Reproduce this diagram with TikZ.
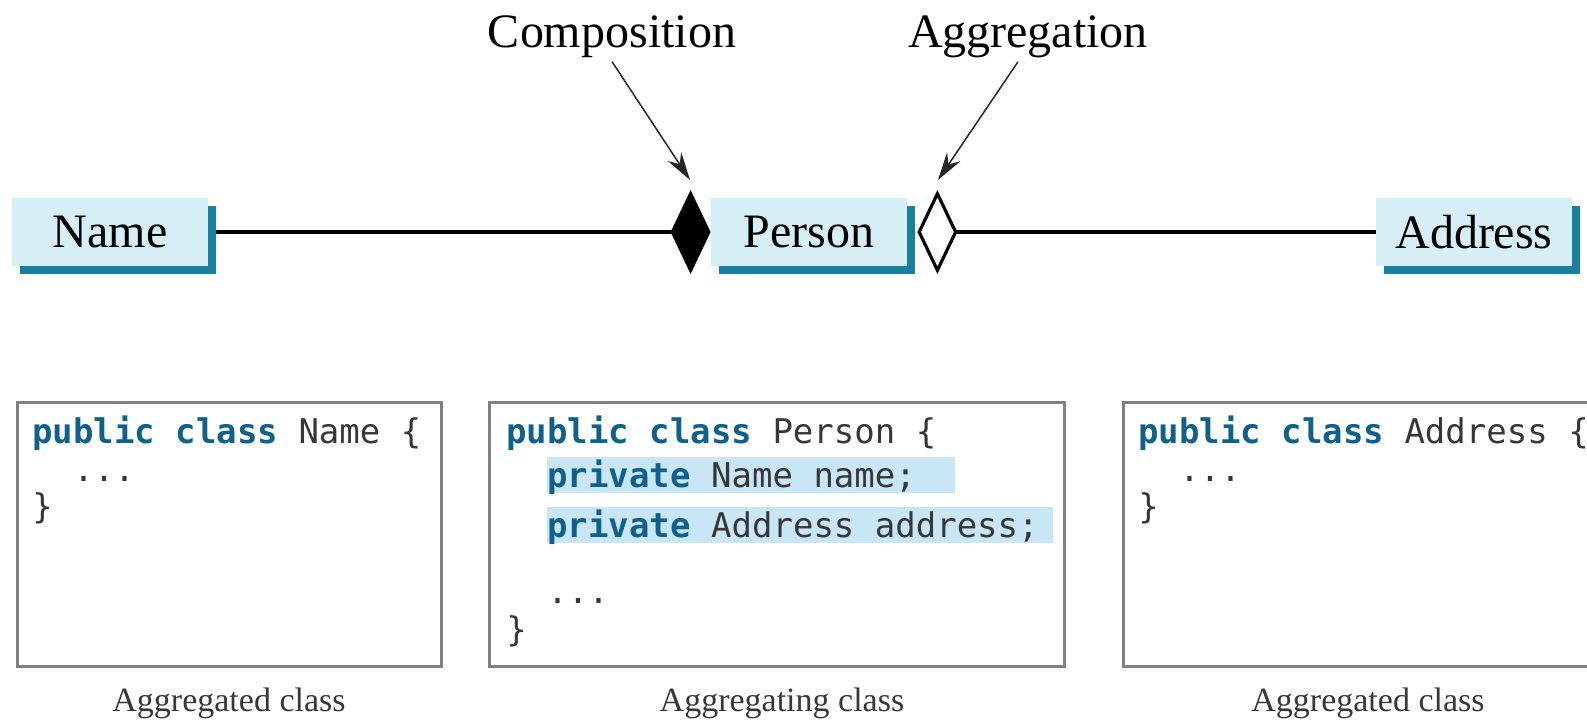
\documentclass[tikz,border=0pt]{standalone}
\usepackage{fontspec}
\setmainfont{Liberation Serif}
\newfontfamily\codefont{DejaVu Sans Mono}
\usetikzlibrary{arrows.meta,shapes,shadows,positioning}

\definecolor{boxface}{RGB}{214,238,245}
\definecolor{boxshade}{RGB}{24,128,156}
\definecolor{kwblue}{RGB}{16,96,140}
\definecolor{hlblue}{RGB}{200,230,245}
\definecolor{codegray}{RGB}{55,55,55}
\definecolor{framegray}{RGB}{128,128,128}

\newcommand\kw[1]{\textcolor{kwblue}{\bfseries #1}}

\begin{document}
\begin{tikzpicture}[x=0.5pt,y=-0.5pt,>={Stealth[length=14pt,width=8pt]},
    class node/.style={fill=boxface,general shadow={fill=boxshade,shadow xshift=4pt,shadow yshift=-4pt},
                       minimum width=98pt,minimum height=34pt,inner sep=0pt,font=\fontsize{24}{28}\selectfont},
    note/.style={anchor=base,inner sep=2pt,font=\fontsize{24}{28}\selectfont},
    code box/.style={draw=framegray,line width=1.5pt,minimum height=132pt,inner sep=0pt},
    code/.style={anchor=base west,inner sep=0pt,text=codegray,font=\codefont\fontsize{17}{20}\selectfont},
    marked/.style={code,fill=hlblue,text height=15pt,text depth=3pt},
    caption/.style={anchor=base,text=codegray,font=\fontsize{17}{19}\selectfont}]

  \useasboundingbox (0,0) rectangle (1587,719);
  \clip (0,0) rectangle (1587,719);

  \node[class node] (name) at (110,232) {Name};
  \node[class node] (person) at (809,232) {Person};
  \node[class node] (address) at (1474,232) {Address};

  \draw[line width=2.4pt,-{Diamond[length=20pt,width=42pt]},shorten <=4pt] (name) -- (person);
  \draw[line width=2.4pt,{Diamond[open,length=20pt,width=42pt,line width=1.6pt]}-,shorten <=5pt] (person) -- (address);

  \node[note] (comp) at (612,47) {Composition};
  \node[note] (aggr) at (1028,47) {Aggregation};
  \coordinate (comptip) at (690,180);
  \coordinate (aggrtip) at (938,180);
  \draw[->,line width=0.75pt,black!85] (comp.south) -- (comptip);
  \draw[->,line width=0.75pt,black!85] ([xshift=-5pt]aggr.south) -- (aggrtip);

  \node[code box,minimum width=212pt] (namecode) at (229,534) {};
  \node[code box,minimum width=287.5pt] (personcode) at (776.5,534) {};
  \node[code box,minimum width=245pt] (addresscode) at (1368,534) {};

  \node[code] (n1) at (32,443) {\kw{public class} Name \{};
  \node[code] (n2) at (73,481) {...};
  \node[code] (n3) at (32,518) {\}};

  \node[code] (p1) at (506,443) {\kw{public class} Person \{};
  \node[marked] (p2) at (547,487) {\makebox[204pt][l]{\kw{private} Name name;}};
  \node[marked] (p3) at (547,537) {\makebox[253pt][l]{\kw{private} Address address;}};
  \node[code] (p4) at (547,603) {...};
  \node[code] (p5) at (506,641) {\}};

  \node[code] (a1) at (1138,443) {\kw{public class} Address \{};
  \node[code] (a2) at (1179,481) {...};
  \node[code] (a3) at (1138,518) {\}};

  \node[caption] (namecap) at (229,711) {Aggregated class};
  \node[caption] (personcap) at (782,711) {Aggregating class};
  \node[caption] (addresscap) at (1368,711) {Aggregated class};

\end{tikzpicture}
\end{document}
